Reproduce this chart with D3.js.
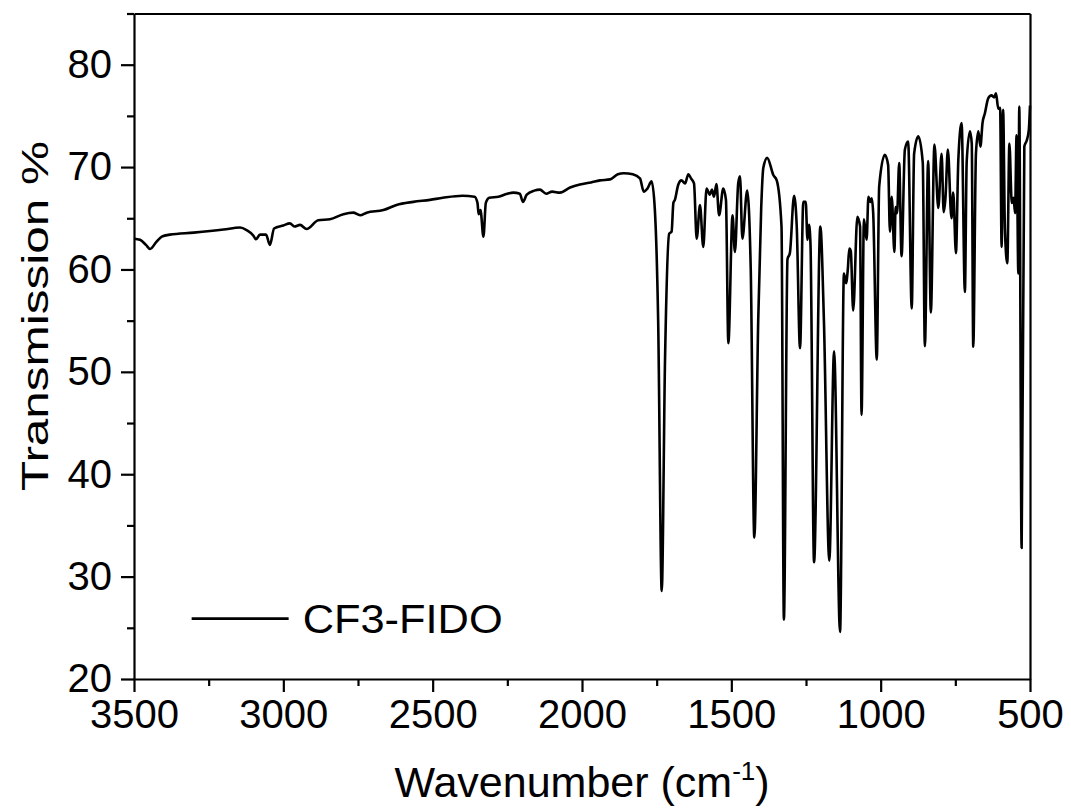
<!DOCTYPE html>
<html>
<head>
<meta charset="utf-8">
<script src="https://cdn.jsdelivr.net/npm/d3@7"></script>
<style>
  body { margin: 0; background: #fff; }
  text { font-family: "Liberation Sans", Arial, sans-serif; fill: #000; }
</style>
</head>
<body>
<svg width="1071" height="812"></svg>
<script>
// IR spectrum of CF3-FIDO
var wavenumber = [3500, 3480, 3460, 3446, 3425, 3407, 3380, 3300, 3200, 3145, 3123, 3100, 3092, 3078, 3058, 3045, 3031, 3000,
  2978, 2963, 2944, 2922, 2883, 2844, 2799, 2766, 2743, 2721, 2665, 2621, 2565, 2509, 2466, 2400, 2360, 2350, 2346, 2340,
  2330, 2322, 2310, 2280, 2250, 2230, 2208, 2198, 2185, 2160, 2141, 2120, 2100, 2074, 2040, 2007, 1970, 1940, 1906, 1880,
  1860, 1830, 1806, 1793, 1781, 1767, 1756, 1745, 1733, 1722, 1708, 1700, 1694, 1689, 1678, 1667, 1655, 1644, 1635, 1625,
  1616, 1605, 1594, 1583, 1572, 1565, 1558, 1550, 1541, 1527, 1518, 1510, 1496, 1488, 1477, 1471, 1463, 1447, 1435, 1423,
  1410, 1400, 1393, 1380, 1359, 1348, 1332, 1324, 1312, 1304, 1290, 1281, 1270, 1259, 1251, 1245, 1240, 1235, 1223, 1202,
  1190, 1172, 1156, 1136, 1123, 1116, 1110, 1105, 1100, 1092, 1078, 1069, 1064, 1056, 1047, 1041, 1035, 1030, 1025, 1013,
  1005, 986, 975, 969, 963, 954, 950, 945, 938, 930, 919, 908, 896, 888, 874, 859, 852, 841, 832, 820, 807, 796, 789, 783,
  775, 763, 757, 748, 740, 729, 718, 712, 701, 695, 690, 681, 673, 666, 659, 651, 640, 629, 620, 614, 606, 600, 595, 590,
  584, 576, 569, 561, 555, 550, 545, 539, 536, 528, 519, 511, 504, 500];
var transmission = [63.0, 62.9, 62.4, 62.0, 62.7, 63.2, 63.4, 63.6, 63.9, 64.1, 63.85, 63.3, 62.95, 63.4, 63.4, 62.4, 64.0, 64.3,
  64.5, 64.2, 64.35, 63.95, 64.8, 64.9, 65.4, 65.55, 65.3, 65.55, 65.8, 66.3, 66.6, 66.8, 67.0, 67.2, 67.1, 66.5, 65.4, 65.8,
  63.2, 66.5, 67.0, 67.1, 67.4, 67.5, 67.4, 66.6, 67.3, 67.7, 67.8, 67.4, 67.6, 67.5, 68.0, 68.3, 68.5, 68.7, 68.8, 69.3,
  69.4, 69.3, 68.9, 67.6, 67.9, 68.6, 65.8, 55.0, 28.6, 51.2, 63.5, 63.7, 66.5, 66.8, 68.25, 68.7, 68.4, 69.3, 68.9, 68.4,
  63.0, 66.3, 62.2, 67.9, 67.3, 67.8, 67.1, 68.35, 65.3, 67.9, 66.8, 52.8, 65.3, 61.7, 68.4, 69.1, 63.0, 67.7, 60.0, 33.8,
  55.0, 66.0, 69.9, 70.9, 69.2, 68.7, 64.2, 25.8, 61.0, 61.6, 67.2, 64.2, 52.3, 66.6, 66.6, 62.9, 64.35, 62.5, 31.4, 64.2,
  55.0, 31.55, 52.0, 24.6, 59.6, 58.65, 60.0, 62.05, 61.8, 56.0, 65.15, 64.2, 45.8, 64.9, 62.9, 67.1, 66.6, 66.95, 65.5, 51.2,
  68.1, 71.2, 70.2, 63.7, 67.1, 61.7, 66.1, 65.5, 70.4, 61.3, 71.7, 72.5, 56.2, 71.3, 73.0, 70.4, 52.5, 70.6, 55.8, 72.2,
  66.0, 71.3, 65.6, 67.0, 71.7, 65.0, 67.5, 61.6, 70.7, 74.3, 57.8, 70.5, 73.5, 72.3, 52.45, 71.3, 73.5, 72.0, 74.3, 75.25,
  76.7, 77.0, 76.8, 77.2, 75.7, 75.8, 62.2, 75.6, 63.9, 60.6, 72.3, 66.5, 67.0, 65.5, 73.1, 59.6, 75.9, 32.8, 72.0, 72.6,
  73.6, 76.0];

var xTicks = [3500, 3000, 2500, 2000, 1500, 1000, 500];
var xMinor = [3250, 2750, 2250, 1750, 1250, 750];
var yTicks = [20, 30, 40, 50, 60, 70, 80];
var yMinor = [25, 35, 45, 55, 65, 75, 85];
var seriesName = "CF3-FIDO";

var svg = d3.select("svg"),
    margin = {top: 13.5, right: 41, bottom: 133, left: 134},
    width = 1071 - margin.left - margin.right,
    height = 812 - margin.top - margin.bottom,
    g = svg.append("g").attr("transform", "translate(" + margin.left + "," + margin.top + ")");

var x = d3.scaleLinear().domain([3500, 500]).range([0, width]);
var y = d3.scaleLinear().domain([20, 85]).range([height, 0]);

var fontSize = 40;

// minor ticks first, then the major axes on top
g.append("g")
    .attr("transform", "translate(0," + height + ")")
    .call(d3.axisBottom(x).tickValues(xMinor).tickSize(7).tickSizeOuter(0).tickFormat(""))
    .call(function(a) { a.select(".domain").remove(); });
g.append("g")
    .call(d3.axisLeft(y).tickValues(yMinor).tickSize(7).tickSizeOuter(0).tickFormat(""))
    .call(function(a) { a.select(".domain").remove(); });

var xAxis = g.append("g")
    .attr("transform", "translate(0," + height + ")")
    .call(d3.axisBottom(x).tickValues(xTicks).tickFormat(d3.format("d")).tickSize(13).tickSizeOuter(0).tickPadding(8));
xAxis.selectAll("text").attr("font-size", fontSize).attr("font-family", null);

var yAxis = g.append("g")
    .call(d3.axisLeft(y).tickValues(yTicks).tickSize(13).tickSizeOuter(0).tickPadding(9));
yAxis.selectAll("text").attr("font-size", fontSize).attr("font-family", null);

// top and right frame lines
g.append("g").call(d3.axisTop(x).tickValues([]).tickSizeOuter(0));
g.append("g").attr("transform", "translate(" + width + ",0)")
    .call(d3.axisRight(y).tickValues([]).tickSizeOuter(0));

g.selectAll(".domain, .tick line").attr("stroke", "#000").attr("stroke-width", 2.2);

// the spectrum
var line = d3.line()
    .x(function(d, i) { return x(wavenumber[i]); })
    .y(function(d) { return y(d); })
    .curve(d3.curveMonotoneX);

g.append("path")
    .datum(transmission)
    .attr("fill", "none")
    .attr("stroke", "#000")
    .attr("stroke-width", 2.6)
    .attr("stroke-linejoin", "round")
    .attr("d", line);

// legend
var legend = g.append("g").attr("transform", "translate(" + x(3307) + "," + y(25.9) + ")");
legend.append("line").attr("x1", 0).attr("x2", 97).attr("stroke", "#000").attr("stroke-width", 2.6);
legend.append("text").attr("x", 111).attr("dy", "0.35em").attr("font-size", fontSize)
    .attr("textLength", 200).attr("lengthAdjust", "spacingAndGlyphs")
    .text(seriesName);

// axis titles
svg.append("text")
    .attr("x", margin.left + width / 2)
    .attr("y", 797)
    .attr("text-anchor", "middle")
    .attr("font-size", 43)
    .html("Wavenumber (cm<tspan dy='-17' font-size='26'>-1</tspan><tspan dy='17'>)</tspan>");

svg.append("text")
    .attr("transform", "translate(48,316)rotate(-90)")
    .attr("text-anchor", "middle")
    .attr("font-size", 37)
    .attr("textLength", 350).attr("lengthAdjust", "spacingAndGlyphs")
    .text("Transmission %");
</script>
</body>
</html>
